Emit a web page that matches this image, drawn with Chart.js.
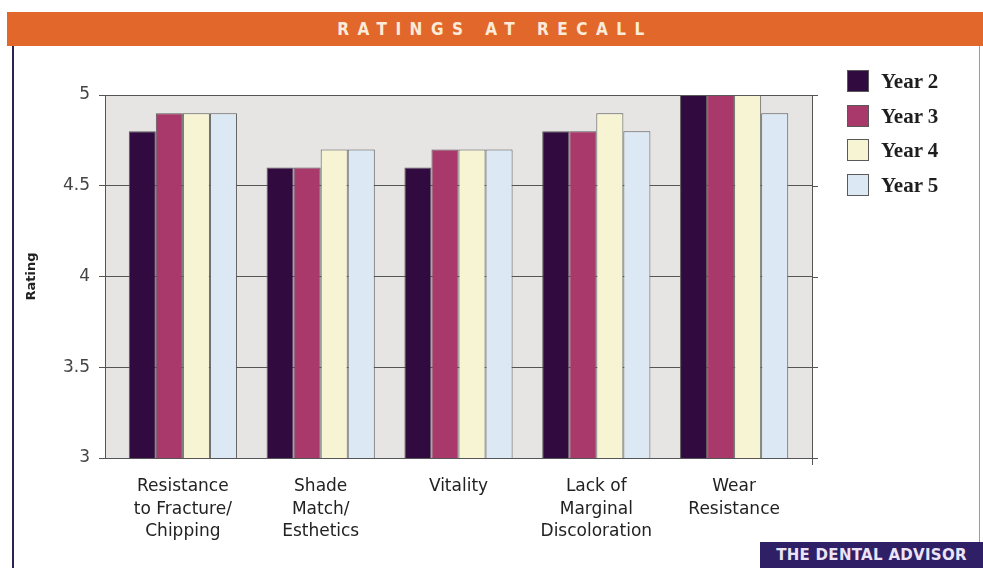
<!DOCTYPE html>
<html>
<head>
<meta charset="utf-8">
<script src="https://cdn.jsdelivr.net/npm/chart.js@4/dist/chart.umd.min.js"></script>
<style>
  body { margin:0; background:#fff; }
  #wrap { position:relative; width:983px; height:568px; overflow:hidden; background:#fff; }
  #band { position:absolute; left:7px; top:12px; width:976px; height:34px; background:#e2672b;
          color:#fdebd9; font:bold 17px "Liberation Sans Narrow","DejaVu Sans Condensed","DejaVu Sans",sans-serif;
          letter-spacing:8.5px; text-align:center; line-height:35px; }
  #leftLine { position:absolute; left:12px; top:46px; width:2px; height:522px; background:#2b2352; }
  #rightLine { position:absolute; left:979px; top:46px; width:1px; height:496px; background:#9a9aa8; }
  #footer { position:absolute; left:760px; top:542px; width:223px; height:26px; background:#2e1f66;
            color:#ece4f6; font:bold 15px "DejaVu Sans",sans-serif; line-height:27px; text-align:center; letter-spacing:0.3px; }
  #chart { position:absolute; left:0; top:0; }
  #legend { position:absolute; left:847px; top:70px; font:bold 21px "Liberation Serif","DejaVu Serif",serif; color:#1e1e1e; }
  #legend div { height:34.5px; display:flex; align-items:flex-start; }
  #legend span.box { display:inline-block; width:22px; height:22px; border:1px solid #5a5a5a; box-sizing:border-box; margin-right:12px; }
  #legend span.txt { line-height:22px; }
</style>
</head>
<body>
<div id="wrap">
  <div id="band">RATINGS AT RECALL</div>
  <div id="leftLine"></div>
  <div id="rightLine"></div>
  <div id="footer">THE DENTAL ADVISOR</div>
  <canvas id="chart" width="983" height="568"></canvas>
  <div id="legend"></div>
</div>
<script>
'use strict';
let categories=[['Resistance','to Fracture/','Chipping'],['Shade','Match/','Esthetics'],['Vitality'],['Lack of','Marginal','Discoloration'],['Wear','Resistance']];
let seriesNames=['Year 2','Year 3','Year 4','Year 5'];
let year2=[4.8,4.6,4.6,4.8,5];
let year3=[4.9,4.6,4.7,4.8,5];
let year4=[4.9,4.7,4.7,4.9,5];
let year5=[4.9,4.7,4.7,4.8,4.9];
let yTicks=[3,3.5,4,4.5,5];
let colors=['#310b40','#a9396b','#f6f4d3','#dce9f4'];

let allSeries=[year2,year3,year4,year5];
let datasets=[];
for(let i=0;i<allSeries.length;i++){
  datasets.push({
    label:seriesNames[i],
    data:allSeries[i].map(function(v,j){return {x:j,y:v};}),
    backgroundColor:colors[i],
    borderColor:'#5a5a5a',
    borderWidth:1
  });
}

// gray plot background + right axis with its tick marks
let framePlugin={
  id:'framePlugin',
  beforeDraw(chart){
    let ctx=chart.ctx, a=chart.chartArea;
    ctx.save();
    ctx.fillStyle='#e6e5e3';
    ctx.fillRect(a.left,a.top,a.right-a.left,a.bottom-a.top);
    ctx.restore();
  },
  afterDraw(chart){
    let ctx=chart.ctx, a=chart.chartArea, y=chart.scales.y;
    ctx.save();
    ctx.strokeStyle='#555';
    ctx.lineWidth=1;
    ctx.beginPath();
    let x=Math.round(a.right)+0.5;
    ctx.moveTo(x,a.top);
    ctx.lineTo(x,a.bottom+7);
    yTicks.forEach(function(t){
      let py=Math.round(y.getPixelForValue(t))+0.5;
      ctx.moveTo(a.right,py);
      ctx.lineTo(a.right+6,py);
    });
    ctx.stroke();
    ctx.restore();
  }
};

let ctx=document.getElementById('chart').getContext('2d');
let chart=new Chart(ctx,{
  type:'bar',
  data:{datasets:datasets},
  plugins:[framePlugin],
  options:{
    responsive:false,
    animation:false,
    categoryPercentage:0.785,
    barPercentage:1,
    layout:{padding:{left:20,top:95,right:171,bottom:20}},
    plugins:{legend:{display:false},tooltip:{enabled:false}},
    scales:{
      x:{
        type:'linear',
        min:-0.565,
        max:4.565,
        offset:false,
        afterFit(s){s.height=90;},
        grid:{display:false,drawTicks:false},
        border:{display:true,color:'#555',width:1},
        ticks:{
          stepSize:1,
          includeBounds:false,
          autoSkip:false,
          maxRotation:0,
          padding:18,
          color:'#222',
          font:{family:'DejaVu Sans',size:17,lineHeight:1.3},
          callback(v){return Number.isInteger(v)?categories[v]:'';}
        }
      },
      y:{
        min:3,
        max:5,
        afterFit(s){s.width=85;},
        grid:{color:'#555',lineWidth:1,tickLength:6},
        border:{display:true,color:'#555',width:1},
        ticks:{stepSize:0.5,padding:9,color:'#444',font:{family:'DejaVu Sans',size:17},
          callback(v){return String(v);}},
        title:{display:true,text:'Rating',color:'#222',font:{family:'DejaVu Sans',size:13,weight:'bold'},padding:{top:4,bottom:0}}
      }
    }
  }
});

let legend=document.getElementById('legend');
chart.data.datasets.forEach(function(ds){
  let row=document.createElement('div');
  let box=document.createElement('span');
  box.className='box';
  box.style.background=ds.backgroundColor;
  let txt=document.createElement('span');
  txt.className='txt';
  txt.textContent=ds.label;
  row.appendChild(box);
  row.appendChild(txt);
  legend.appendChild(row);
});
</script>
</body>
</html>
